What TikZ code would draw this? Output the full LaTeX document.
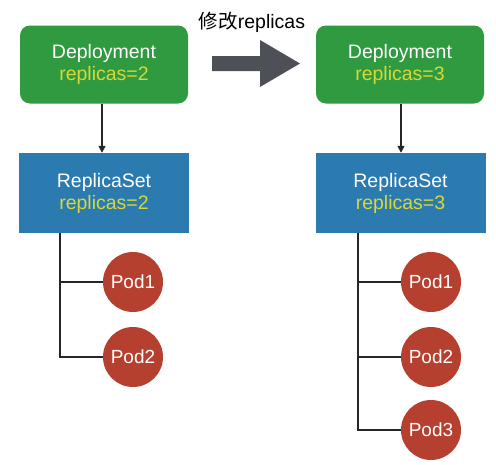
\documentclass[tikz,border=0pt]{standalone}
\usepackage{fontspec}
\setmainfont{Liberation Sans}
\newfontfamily\cjk{Noto Sans CJK SC}
\usetikzlibrary{arrows.meta}
\definecolor{depgreen}{HTML}{2F9A3F}
\definecolor{rsblue}{HTML}{2B7BB0}
\definecolor{podred}{HTML}{B6402F}
\definecolor{repyellow}{HTML}{D8D838}
\definecolor{bigarrow}{HTML}{4E5058}
\tikzset{
  depbox/.style={fill=depgreen, rounded corners=10pt, minimum width=168pt, minimum height=78pt, inner sep=0pt, align=center, text=white, font=\fontsize{19.5}{22}\selectfont},
  rsbox/.style={fill=rsblue, minimum width=170pt, minimum height=80pt, inner sep=0pt, align=center, text=white, font=\fontsize{19.5}{22}\selectfont},
  pod/.style={circle, fill=podred, minimum size=60pt, inner sep=0pt, text=white, font=\fontsize{19}{22}\selectfont},
  conn/.style={draw=black!85, line width=1.5pt},
  arr/.style={conn, -{Triangle[length=7pt,width=7pt]}},
}
\begin{document}
\begin{tikzpicture}[x=1pt,y=-1pt]
\useasboundingbox (0,0) rectangle (496,464);
% left side
\node[depbox] (d1) at (104,64.5) {Deployment\\\textcolor{repyellow}{replicas=2}};
\node[rsbox] (r1) at (104,193) {ReplicaSet\\\textcolor{repyellow}{replicas=2}};
\node[pod] (p11) at (133,282) {Pod1};
\node[pod] (p12) at (133,357) {Pod2};
\draw[arr] (d1.south -| 102,0) -- (r1.north -| 102,0);
\coordinate (t1) at (60,233);
\coordinate (b1) at (60,357);
\draw[conn] (t1) -- (b1) -- (p12.west);
\draw[conn] (60,282) -- (p11.west);
% right side
\node[depbox] (d2) at (400,64.5) {Deployment\\\textcolor{repyellow}{replicas=3}};
\node[rsbox] (r2) at (400.5,193) {ReplicaSet\\\textcolor{repyellow}{replicas=3}};
\node[pod] (p21) at (431,282) {Pod1};
\node[pod] (p22) at (431,357) {Pod2};
\node[pod] (p23) at (431,430) {Pod3};
\draw[arr] (d2.south -| 401,0) -- (r2.north -| 401,0);
\coordinate (t2) at (358,233);
\coordinate (b2) at (358,430);
\draw[conn] (t2) -- (b2) -- (p23.west);
\draw[conn] (358,282) -- (p21.west);
\draw[conn] (358,357) -- (p22.west);
% big arrow
\fill[bigarrow] (212,56) -- (260,56) -- (260,40) -- (300,63.5) -- (260,87) -- (260,71) -- (212,71) -- cycle;
\node[font=\fontsize{19.5}{22}\selectfont] (title) at (252,22) {{\cjk 修改}replicas};
\end{tikzpicture}
\end{document}
